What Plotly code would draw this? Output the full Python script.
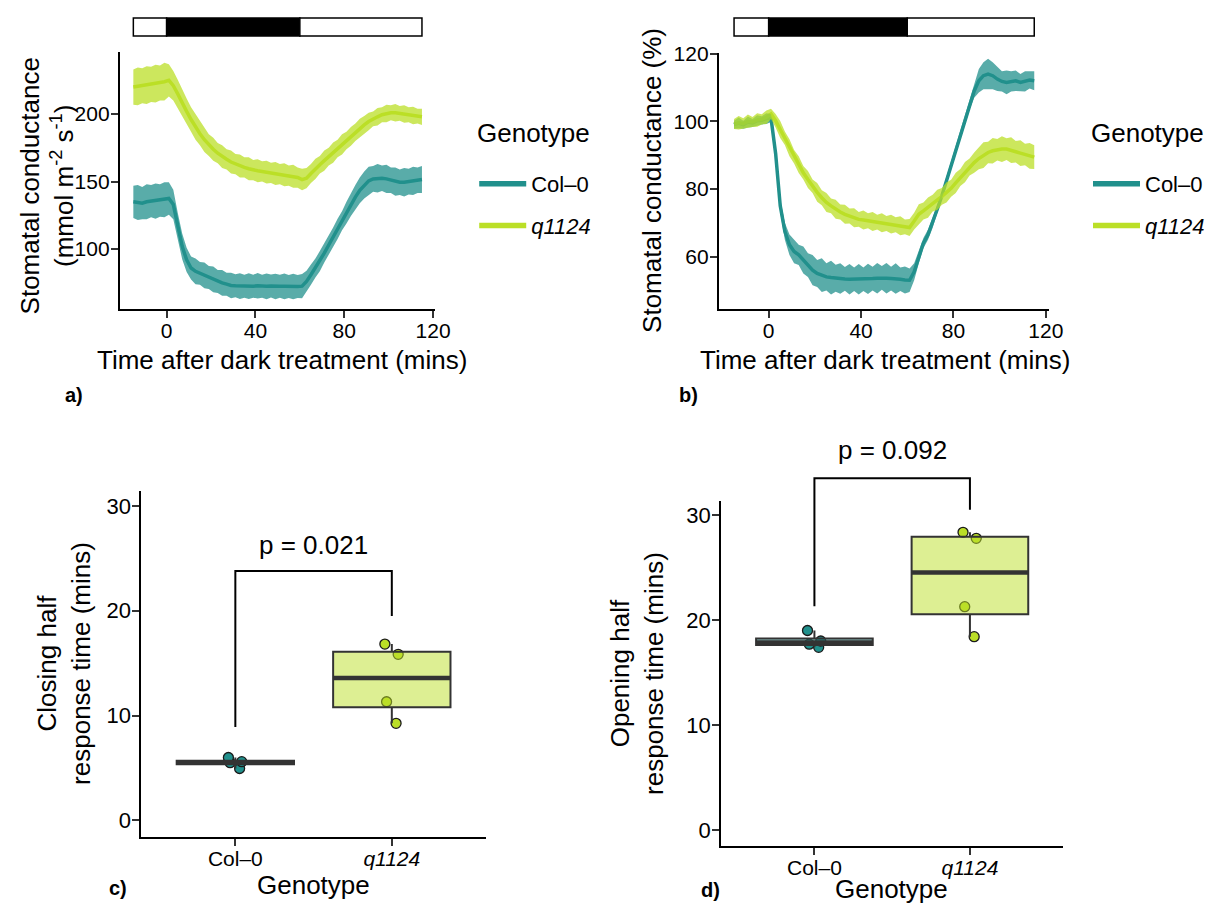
import numpy as np
import plotly.graph_objects as go

FONT = "Liberation Sans, Arial, Helvetica, sans-serif"
TEAL = "#21908C"
LIME = "#BBDF27"
TEAL_RIB = "rgba(33,144,140,0.75)"
LIME_RIB = "rgba(187,223,39,0.75)"
TEAL_BOX = "rgba(33,144,140,0.5)"
LIME_BOX = "rgba(187,223,39,0.5)"

# ---------------- data ----------------
time_min = list(range(-15, 116, 2))

gs_col0_mean = [135, 134.5, 134, 135, 135.5, 135.5, 136, 136.5, 137.5,
                133, 117, 102, 92, 86, 83.5, 82, 80.5, 79,
                77.5, 76, 75, 74, 73, 72.8, 72.6, 72.5, 72.6, 72.5, 72.8, 72.5, 72.4, 72.6, 72.3, 72.5, 72.4, 72.2, 72.3, 72.2, 72.5,
                76, 81, 86, 91, 97, 103, 109, 115, 121, 127, 133, 138.5, 143.5, 147.5,
                150.5, 152, 152.5, 152.5, 152, 151, 150, 149.5, 149.5, 150, 150.5, 151, 151.5]
gs_col0_se = [12, 13, 12, 13, 12, 13, 12, 13, 12,
              11, 10, 9.5, 9, 8.5, 9.5, 8.5, 9.5, 8.5,
              9.5, 8.5, 9.5, 8.5, 9.5, 8.5, 9.5, 8.5, 9.5, 8.5, 9.5, 8.5, 9.5, 8.5, 9.5, 8.5, 9.5, 8.5, 9.5, 8.5, 9,
              8, 7.5, 7, 7.5, 7, 7.5, 7, 7.5, 7, 8, 8.5, 9, 9.5, 10,
              10.5, 9.5, 10.5, 9.5, 10.5, 9.5, 10.5, 9.5, 10.5, 9.5, 10.5, 9.5, 10]
gs_q1124_mean = [220, 220.5, 221, 221.5, 222, 222.5, 223, 224, 225,
                 221, 215, 208, 202, 196, 190.5, 185.5, 181, 177,
                 174, 171, 168.5, 166.5, 164.5, 163, 161.5, 160.5, 159.5, 158.5, 158, 157.5, 157, 156.5, 156, 155.5, 155, 154.5, 154, 153, 151.5,
                 152.5, 156, 159.5, 162.5, 165.5, 168.5, 171.5, 174.5, 177.5, 180.5, 183.5, 186.5, 189.5, 192,
                 194.5, 196.5, 198, 199.5, 200.5, 201, 201, 200.5, 200, 199.5, 199, 198.5, 198]
gs_q1124_se = [13, 14, 13, 14, 13, 14, 13, 14, 12,
               11, 10.5, 10, 9.5, 9, 9.5, 8.5, 9, 8,
               8.5, 7.5, 8.5, 7.5, 8.5, 7.5, 8.5, 7.5, 8.5, 7.5, 8.5, 7.5, 8.5, 7.5, 8.5, 7.5, 8.5, 7.5, 8.5, 7.5, 8,
               7.5, 7, 7.5, 6.5, 7.5, 6.5, 7.5, 6.5, 7.5, 6.5, 7, 6.5, 7, 6.5,
               6.5, 5.5, 6.5, 5.5, 6.5, 5.5, 6.5, 5.5, 6.5, 5.5, 6.5, 5.5, 6]

pct_col0_mean = [99, 99.5, 99, 99.8, 99.5, 100.2, 100.3, 100.8, 101,
                 90.5, 75, 67.5, 63.5, 61.5, 60.5, 59, 57.5, 56,
                 55, 54.5, 54, 53.8, 53.6, 53.5, 53.4, 53.3, 53.3, 53.3, 53.3, 53.4, 53.5, 53.6, 53.7, 53.6, 53.5, 53.5, 53.3, 53.1, 53,
                 55.5, 60, 64, 66.5, 70, 74, 78, 82.5, 87, 91.5, 96, 100.5, 105, 109,
                 112, 113.5, 114, 113.5, 112.5, 111.8, 111.5, 111.8, 112, 111.5, 111.8, 112.2, 112]
pct_col0_se = [1.2, 1.6, 1.2, 1.6, 1.2, 1.6, 1.2, 1.6, 1.2,
               1.5, 2, 2.5, 3, 3.5, 3, 4, 3.5, 4.5,
               4, 5, 4, 5, 4, 4.5, 3.5, 4.5, 3.5, 4.5, 3.5, 4.5, 3.5, 4.5, 3.5, 4.5, 3.5, 4.5, 3.5, 4, 3.5,
               2.5, 2, 1.5, 1.5, 1.5, 1.2, 1.2, 1.2, 1.2, 1.2, 1.2, 1.2, 1.5, 2,
               3.5, 4, 4.5, 4, 3.5, 3, 3.5, 3, 3, 2.5, 3, 2.5, 2.8]
pct_q1124_mean = [99.2, 99.6, 99.4, 100, 99.8, 100.4, 100.6, 101.2, 102.2,
                  100.2, 97.6, 95, 92.2, 89.5, 87.2, 84.8, 82.8, 80.8,
                  79, 77.4, 76, 75, 74, 73.2, 72.5, 72, 71.5, 71, 70.8, 70.6, 70.4, 70.2, 70, 69.8, 69.6, 69.4, 69.1, 68.8, 68.6,
                  70.5, 72.5, 73.5, 74.5, 75.8, 76.8, 77.8, 79, 80.2, 81.8, 83.4, 85, 86.5, 87.8,
                  89, 90, 90.8, 91.3, 91.6, 91.8, 91.8, 91.5, 91, 90.6, 90.2, 89.8, 89.4]
pct_q1124_se = [1.5, 2, 1.5, 2, 1.5, 2, 1.5, 2, 1.5,
                2, 2.5, 2, 2.5, 2, 2.5, 2, 2.5, 2,
                2.8, 2.2, 2.8, 2.2, 2.8, 2.2, 2.8, 2.2, 2.8, 2.2, 2.8, 2.2, 2.8, 2.2, 2.8, 2.2, 2.8, 2.2, 2.8, 2.2, 2.5,
                2.5, 3, 2.5, 3, 2.5, 3, 2.5, 3, 2.5, 3, 2.5, 3, 2.5, 3,
                3.2, 3.8, 3.2, 3.8, 3.2, 3.8, 3.2, 3.8, 3.2, 3.8, 3.2, 3.8, 3.5]

light_periods = [(-15, 0, "light"), (0, 60, "dark"), (60, 115, "light")]

genotype_labels = ["Col–0", "<i>q1124</i>"]
genotype_pos = [0, 1]
closing_col0 = [4.95, 5.5, 5.6, 6.0]
closing_q1124 = [9.26, 11.32, 15.84, 16.82]
opening_col0 = [17.4, 17.7, 18.0, 19.0]
opening_q1124 = [18.41, 21.27, 27.78, 28.35]

p_closing = "p = 0.021"
p_opening = "p = 0.092"
bracket_closing = [8.9, 23.8, 19.5]   # left leg bottom, bracket top, right leg bottom
bracket_opening = [21.3, 33.5, 30.5]
p_closing_y = 26.3
p_opening_y = 36.2

# ---------------- layout geometry ----------------
W, H = 1210, 905
dom = {
    "a": dict(x=[120 / W, 436 / W], y=[1 - 309 / H, 1 - 52 / H]),
    "b": dict(x=[720 / W, 1051 / W], y=[1 - 309 / H, 1 - 52.7 / H]),
    "c": dict(x=[141.7 / W, 486.5 / W], y=[1 - 836.7 / H, 1 - 490.7 / H]),
    "d": dict(x=[722.3 / W, 1065 / W], y=[1 - 846 / H, 1 - 500.7 / H]),
}
rng = {
    "a": dict(x=[-21.1, 121], y=[55.6, 246]),
    "b": dict(x=[-21.6, 121.5], y=[44.5, 120.3]),
    "c": dict(x=[-0.6, 1.6], y=[-1.56, 31.46]),
    "d": dict(x=[-0.6, 1.6], y=[-1.52, 31.36]),
}


def ypaper(panel, v):
    d0, d1 = dom[panel]["y"]
    r0, r1 = rng[panel]["y"]
    return d0 + (v - r0) / (r1 - r0) * (d1 - d0)


fig = go.Figure()

# ---------------- time courses ----------------
def add_timecourse(xa, ya, series, legend_name):
    # lines first, then semi-transparent ribbons on top (as in the original)
    for mean, se, col, rib in series:
        fig.add_trace(go.Scatter(x=time_min, y=mean, mode="lines",
                                 line=dict(color=col, width=3.5),
                                 xaxis=xa, yaxis=ya, showlegend=False, hoverinfo="skip"))
    for mean, se, col, rib in series:
        upper = [m + s for m, s in zip(mean, se)]
        lower = [m - s for m, s in zip(mean, se)]
        fig.add_trace(go.Scatter(x=time_min + time_min[::-1], y=upper + lower[::-1],
                                 mode="lines", fill="toself", fillcolor=rib,
                                 line=dict(width=0, color=rib),
                                 xaxis=xa, yaxis=ya, showlegend=False, hoverinfo="skip"))
    for (mean, se, col, rib), nm in zip(series, genotype_labels):
        fig.add_trace(go.Scatter(x=[None], y=[None], mode="lines", name=nm,
                                 line=dict(color=col, width=5.5),
                                 xaxis=xa, yaxis=ya, legend=legend_name,
                                 legendgroup=legend_name + nm, showlegend=True))


add_timecourse("x", "y", [(gs_col0_mean, gs_col0_se, TEAL, TEAL_RIB),
                          (gs_q1124_mean, gs_q1124_se, LIME, LIME_RIB)], "legend")
add_timecourse("x2", "y2", [(pct_col0_mean, pct_col0_se, TEAL, TEAL_RIB),
                            (pct_q1124_mean, pct_q1124_se, LIME, LIME_RIB)], "legend2")

# ---------------- box plots ----------------
BOX_W = 0.75


def add_boxes(xa, ya, groups):
    for pos, vals, col, boxfill in groups:
        # jittered points (drawn first, the box is drawn over them)
        fig.add_trace(go.Box(x=[pos] * len(vals), y=vals, boxpoints="all", jitter=0.14, pointpos=0,
                             width=BOX_W, fillcolor="rgba(0,0,0,0)",
                             line=dict(width=0, color="rgba(0,0,0,0)"), whiskerwidth=0,
                             marker=dict(color=col, size=10, line=dict(color="#1a1a1a", width=1.3)),
                             xaxis=xa, yaxis=ya, showlegend=False, hoverinfo="skip"))
    for pos, vals, col, boxfill in groups:
        arr = np.array(vals, dtype=float)
        q1, med, q3 = np.percentile(arr, [25, 50, 75])
        iqr = q3 - q1
        lo = arr[arr >= q1 - 1.5 * iqr].min()
        hi = arr[arr <= q3 + 1.5 * iqr].max()
        fig.add_trace(go.Box(x=[pos], q1=[q1], median=[med], q3=[q3],
                             lowerfence=[lo], upperfence=[hi], width=BOX_W,
                             fillcolor=boxfill, line=dict(color="#333333", width=2),
                             whiskerwidth=0, boxpoints=False,
                             xaxis=xa, yaxis=ya, showlegend=False, hoverinfo="skip"))
        fig.add_trace(go.Scatter(x=[pos - BOX_W / 2, pos + BOX_W / 2], y=[med, med], mode="lines",
                                 line=dict(color="#333333", width=4.5),
                                 xaxis=xa, yaxis=ya, showlegend=False, hoverinfo="skip"))


add_boxes("x3", "y3", [(genotype_pos[0], closing_col0, TEAL, TEAL_BOX),
                       (genotype_pos[1], closing_q1124, LIME, LIME_BOX)])
add_boxes("x4", "y4", [(genotype_pos[0], opening_col0, TEAL, TEAL_BOX),
                       (genotype_pos[1], opening_q1124, LIME, LIME_BOX)])

# ---------------- shapes: light/dark bars and significance brackets ----------------
shapes = []
bar_y = [1 - 36 / H, 1 - 18 / H]
for xa in ["x", "x2"]:
    for t0, t1, kind in light_periods:
        shapes.append(dict(type="rect", xref=xa, yref="paper", x0=t0, x1=t1,
                           y0=bar_y[0], y1=bar_y[1],
                           fillcolor="black" if kind == "dark" else "white",
                           line=dict(color="black", width=1.5), layer="above"))

for panel, xa, br in [("c", "x3", bracket_closing), ("d", "x4", bracket_opening)]:
    left, top, right = br
    p0, p1 = genotype_pos
    path = (f"M {p0},{ypaper(panel, left)} L {p0},{ypaper(panel, top)} "
            f"L {p1},{ypaper(panel, top)} L {p1},{ypaper(panel, right)}")
    shapes.append(dict(type="path", xref=xa, yref="paper", path=path,
                       line=dict(color="black", width=2), layer="above"))

# ---------------- annotations ----------------
ann = []
TITLE_SIZE = 26


def txt(x, y, text, size=TITLE_SIZE, angle=0, bold=False, xref="paper", yref="paper", xanchor="center"):
    ann.append(dict(x=x, y=y, xref=xref, yref=yref, text=(f"<b>{text}</b>" if bold else text),
                    showarrow=False, textangle=angle, xanchor=xanchor, yanchor="middle",
                    font=dict(family=FONT, size=size, color="black")))


txt(47.5 / W, 1 - 186 / H, "Stomatal conductance<br>(mmol m<sup>-2</sup> s<sup>-1</sup>)", angle=-90)
txt(282 / W, 1 - 360 / H, "Time after dark treatment (mins)")
txt(653 / W, 1 - 180 / H, "Stomatal conductance (%)", angle=-90)
txt(886 / W, 1 - 360 / H, "Time after dark treatment (mins)")
txt(64 / W, 1 - 663 / H, "Closing half<br>response time (mins)", angle=-90)
txt(314 / W, 1 - 885 / H, "Genotype")
txt(638 / W, 1 - 673 / H, "Opening half<br>response time (mins)", angle=-90)
txt(893 / W, 1 - 889 / H, "Genotype")

# legend titles
txt(476 / W, 1 - 133 / H, "Genotype", xanchor="left")
txt(1091 / W, 1 - 133 / H, "Genotype", xanchor="left")

txt(74 / W, 1 - 395 / H, "a)", size=20, bold=True)
txt(690 / W, 1 - 395 / H, "b)", size=20, bold=True)
txt(118 / W, 1 - 888 / H, "c)", size=20, bold=True)
txt(712 / W, 1 - 890 / H, "d)", size=20, bold=True)

txt(0.5, ypaper("c", p_closing_y), p_closing, size=26, xref="x3")
txt(0.5, ypaper("d", p_opening_y), p_opening, size=26, xref="x4")

# ---------------- axes ----------------
def axis(domain, r, tickvals, letter, ticktext=None, size=21, anchor=None):
    d = dict(domain=domain, range=r, tickvals=tickvals, showline=True, linecolor="black",
             linewidth=2, ticks="outside", ticklen=7, tickwidth=1.5, tickcolor="#333333",
             showgrid=False, zeroline=False, fixedrange=True, automargin=False,
             tickfont=dict(family=FONT, size=size, color="black"),
             ticklabelstandoff=(-5 if letter == "x" else -3))
    if ticktext is not None:
        d["ticktext"] = ticktext
    if anchor:
        d["anchor"] = anchor
    return d


legend_common = dict(xanchor="left", yanchor="top", bgcolor="rgba(0,0,0,0)",
                     font=dict(family=FONT, size=22, color="black"),
                     tracegroupgap=10, itemwidth=47)

fig.update_layout(
    width=W, height=H, margin=dict(l=0, r=0, t=0, b=0),
    paper_bgcolor="white", plot_bgcolor="white",
    font=dict(family=FONT, color="black"),
    xaxis=axis(dom["a"]["x"], rng["a"]["x"], [0, 40, 80, 120], "x", anchor="y"),
    yaxis=axis(dom["a"]["y"], rng["a"]["y"], [100, 150, 200], "y", anchor="x"),
    xaxis2=axis(dom["b"]["x"], rng["b"]["x"], [0, 40, 80, 120], "x", anchor="y2"),
    yaxis2=axis(dom["b"]["y"], rng["b"]["y"], [60, 80, 100, 120], "y", anchor="x2"),
    xaxis3=axis(dom["c"]["x"], rng["c"]["x"], genotype_pos, "x", genotype_labels, size=21, anchor="y3"),
    yaxis3=axis(dom["c"]["y"], rng["c"]["y"], [0, 10, 20, 30], "y", size=22, anchor="x3"),
    xaxis4=axis(dom["d"]["x"], rng["d"]["x"], genotype_pos, "x", genotype_labels, size=21, anchor="y4"),
    yaxis4=axis(dom["d"]["y"], rng["d"]["y"], [0, 10, 20, 30], "y", size=22, anchor="x4"),
    legend=dict(x=475 / W, y=1 - 163 / H, **legend_common),
    legend2=dict(x=1090 / W, y=1 - 163 / H, **legend_common),
    boxmode="overlay",
    shapes=shapes,
    annotations=ann,
    hovermode=False,
)

fig.write_html("out.html")
